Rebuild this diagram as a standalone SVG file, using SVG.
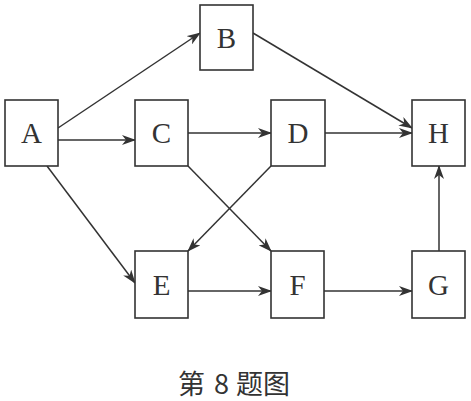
<svg xmlns="http://www.w3.org/2000/svg" width="471" height="401" viewBox="0 0 471 401">
<defs>
<marker id="ah" viewBox="0 0 14 10" refX="13" refY="5" markerWidth="14" markerHeight="10" markerUnits="userSpaceOnUse" orient="auto">
<path d="M0,0 L14,5 L0,10 L4,5 Z" fill="#333"/>
</marker>
<style>
.box{fill:#fff;stroke:#333;stroke-width:1.6}
.lbl{font-family:"Liberation Serif","Times New Roman",serif;font-size:29px;fill:#333;text-anchor:middle}
.edge{stroke:#333;stroke-width:1.5;fill:none;marker-end:url(#ah)}
.cap{font-family:"Noto Sans CJK SC",sans-serif;font-size:27px;fill:#333}
</style>
</defs>
<rect width="471" height="401" fill="#fff"/>
<g id="edges">
<line class="edge" x1="58" y1="128" x2="200" y2="33"/>
<line class="edge" x1="58" y1="140" x2="135" y2="140"/>
<line class="edge" x1="47" y1="166" x2="135" y2="283"/>
<line class="edge" x1="188" y1="133" x2="271" y2="133"/>
<line class="edge" x1="188" y1="166" x2="271" y2="251"/>
<line class="edge" x1="271" y1="166" x2="188" y2="251"/>
<line class="edge" x1="325" y1="133" x2="412" y2="133"/>
<line class="edge" x1="253" y1="33" x2="412" y2="128"/>
<line class="edge" x1="188" y1="291" x2="271" y2="291"/>
<line class="edge" x1="324" y1="291" x2="412" y2="291"/>
<line class="edge" x1="439" y1="251" x2="439" y2="166"/>
</g>
<g id="A"><rect class="box" x="5" y="100" width="53" height="66"/><text class="lbl" x="31.5" y="143">A</text></g>
<g id="B"><rect class="box" x="200" y="5" width="53" height="65"/><text class="lbl" x="226.5" y="48">B</text></g>
<g id="C"><rect class="box" x="135" y="100" width="53" height="66"/><text class="lbl" x="161.5" y="143">C</text></g>
<g id="D"><rect class="box" x="271" y="100" width="54" height="66"/><text class="lbl" x="298" y="143">D</text></g>
<g id="H"><rect class="box" x="412" y="100" width="53" height="66"/><text class="lbl" x="438.5" y="143">H</text></g>
<g id="E"><rect class="box" x="135" y="251" width="53" height="67"/><text class="lbl" x="161.5" y="295">E</text></g>
<g id="F"><rect class="box" x="271" y="251" width="53" height="67"/><text class="lbl" x="297.5" y="295">F</text></g>
<g id="G"><rect class="box" x="412" y="251" width="53" height="67"/><text class="lbl" x="438.5" y="295">G</text></g>
<text class="cap" y="394"><tspan x="178">第</tspan> <tspan x="214">8</tspan> <tspan x="236">题图</tspan></text>
</svg>
